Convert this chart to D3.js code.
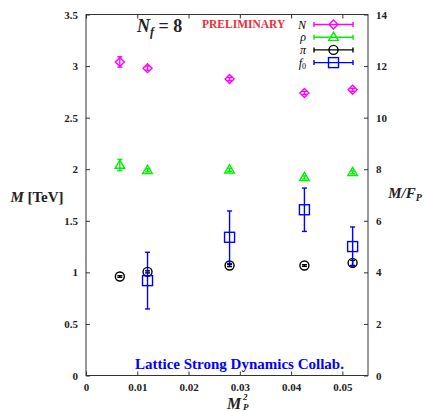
<!DOCTYPE html>
<html lang="en">
<head>
<meta charset="utf-8">
<script src="https://cdn.jsdelivr.net/npm/d3@7"></script>
<style>
  body { margin: 0; background: #fff; }
  svg text { font-family: "Liberation Serif", "DejaVu Serif", serif !important; font-weight: bold; }
</style>
</head>
<body>
<svg width="426" height="412"></svg>
<script>
// x positions (M_P^2)
var mp2 = [0.0066, 0.0120, 0.0280, 0.0426, 0.0520];

// masses in TeV with errors
var nucleon = [3.04, 2.98, 2.875, 2.74, 2.77];
var nucleonErr = [0.05, 0.02, 0.015, 0.015, 0.015];
var rho = [2.04, 1.99, 1.995, 1.92, 1.97];
var rhoErr = [0.055, 0.015, 0.015, 0.015, 0.015];
var pion = [0.96, 1.005, 1.066, 1.066, 1.092];
var pionErr = [0.008, 0.01, 0.01, 0.008, 0.025];
// f0 only at the four heavier masses
var f0x = [0.0120, 0.0280, 0.0426, 0.0520];
var f0 = [0.92, 1.34, 1.607, 1.25];
var f0Err = [0.275, 0.255, 0.21, 0.19];

var xTicks = [0, 0.01, 0.02, 0.03, 0.04, 0.05];
var yTicks = [0, 0.5, 1, 1.5, 2, 2.5, 3, 3.5];
var y2Ticks = [0, 2, 4, 6, 8, 10, 12, 14];

var margin = {top: 14.5, right: 58, bottom: 36.5, left: 86};
var width = 426 - margin.left - margin.right;
var height = 412 - margin.top - margin.bottom;

var svg = d3.select("svg").append("g")
  .attr("transform", "translate(" + margin.left + "," + margin.top + ")");

var x = d3.scaleLinear().domain([0, 0.055]).range([0, width]);
var y = d3.scaleLinear().domain([0, 3.5]).range([height, 0]);
var y2 = d3.scaleLinear().domain([0, 14]).range([height, 0]);

var axisColor = "#333";
var serif = "'Liberation Serif', 'DejaVu Serif', serif";

// axes with inward ticks
function styleAxis(g) {
  g.attr("font-family", null);
  g.select(".domain").remove();
  g.selectAll("line").attr("stroke", axisColor);
  g.selectAll("text").attr("fill", "#222")
    .style("font-family", serif).style("font-size", "11px");
}

svg.append("g").attr("transform", "translate(0," + height + ")")
  .call(d3.axisBottom(x).tickValues(xTicks).tickFormat(d3.format("")).tickSizeInner(-4).tickPadding(8))
  .call(styleAxis);
svg.append("g")
  .call(d3.axisTop(x).tickValues(xTicks).tickFormat("").tickSizeInner(-4))
  .call(styleAxis);
svg.append("g")
  .call(d3.axisLeft(y).tickValues(yTicks).tickFormat(d3.format("")).tickSizeInner(-4).tickPadding(8))
  .call(styleAxis);
svg.append("g").attr("transform", "translate(" + width + ",0)")
  .call(d3.axisRight(y2).tickValues(y2Ticks).tickSizeInner(-4).tickPadding(8))
  .call(styleAxis);

svg.append("rect")
  .attr("width", width).attr("height", height)
  .attr("fill", "none").attr("stroke", axisColor).attr("stroke-width", 1);

// series
var series = [
  {label: "N", xs: mp2, ys: nucleon, es: nucleonErr, color: "#ff00ff", shape: "diamond"},
  {label: "ρ", xs: mp2, ys: rho, es: rhoErr, color: "#00ee00", shape: "triangle"},
  {label: "π", xs: mp2, ys: pion, es: pionErr, color: "#000000", shape: "circle"},
  {label: "f0", xs: f0x, ys: f0, es: f0Err, color: "#0000ff", shape: "square"}
];

function marker(g, shape, color) {
  if (shape === "diamond") {
    g.append("path").attr("d", "M0,-4.5L4.5,0L0,4.5L-4.5,0Z");
  } else if (shape === "triangle") {
    g.append("path").attr("d", "M0,-5L4.8,3.2L-4.8,3.2Z");
  } else if (shape === "circle") {
    g.append("circle").attr("r", 4.5);
  } else {
    g.append("rect").attr("x", -5).attr("y", -5).attr("width", 10).attr("height", 10);
  }
  g.selectAll("path,circle,rect").attr("fill", "none").attr("stroke", color).attr("stroke-width", 1.4);
}

series.forEach(function(s) {
  var pts = s.xs.map(function(d, i) { return {x: d, y: s.ys[i], e: s.es[i]}; });
  var g = svg.append("g");
  var p = g.selectAll("g.pt").data(pts).enter().append("g").attr("class", "pt");
  p.append("line")
    .attr("x1", function(d) { return x(d.x); }).attr("x2", function(d) { return x(d.x); })
    .attr("y1", function(d) { return y(d.y - d.e); }).attr("y2", function(d) { return y(d.y + d.e); })
    .attr("stroke", s.color).attr("stroke-width", 1.4);
  [-1, 1].forEach(function(sg) {
    p.append("line")
      .attr("x1", function(d) { return x(d.x) - 2.5; }).attr("x2", function(d) { return x(d.x) + 2.5; })
      .attr("y1", function(d) { return y(d.y + sg * d.e); }).attr("y2", function(d) { return y(d.y + sg * d.e); })
      .attr("stroke", s.color).attr("stroke-width", 1.4);
  });
  p.each(function(d) {
    var m = d3.select(this).append("g").attr("transform", "translate(" + x(d.x) + "," + y(d.y) + ")");
    marker(m, s.shape, s.color);
  });
});

// legend
var legend = svg.append("g");
series.forEach(function(s, i) {
  var ly = 10 + i * 12.7;
  var lg = legend.append("g").attr("transform", "translate(0," + ly + ")");
  var t = lg.append("text").attr("x", 220).attr("y", 4)
    .attr("text-anchor", "end").style("font-size", "12px").style("font-style", "italic")
    .style("font-weight", "normal");
  if (s.label === "f0") {
    t.text("f");
    t.append("tspan").attr("dy", 2).style("font-size", "8px").style("font-style", "normal").text("0");
  } else {
    t.text(s.label);
  }
  lg.append("line").attr("x1", 228).attr("x2", 267).attr("y1", 0).attr("y2", 0)
    .attr("stroke", s.color).attr("stroke-width", 1.4);
  [228, 267].forEach(function(cx) {
    lg.append("line").attr("x1", cx).attr("x2", cx).attr("y1", -2.5).attr("y2", 2.5)
      .attr("stroke", s.color).attr("stroke-width", 1.4);
  });
  var m = lg.append("g").attr("transform", "translate(247.5,0)");
  marker(m, s.shape, s.color);
});

// annotations
var title = svg.append("text").attr("x", 51).attr("y", 17).style("font-size", "18px").attr("fill", "#222");
title.append("tspan").style("font-style", "italic").text("N");
title.append("tspan").attr("dy", 4).style("font-size", "12px").style("font-style", "italic").text("f");
title.append("tspan").attr("dy", -4).text(" = 8");

svg.append("text").attr("x", 116).attr("y", 13.5).attr("fill", "#e8303a")
  .style("font-size", "11.5px").text("PRELIMINARY");

svg.append("text").attr("x", 49).attr("y", 354).attr("fill", "#0000ff")
  .style("font-size", "15px").text("Lattice Strong Dynamics Collab.");

// axis titles
var yl = svg.append("text").attr("x", 37 - margin.left).attr("y", 197 - margin.top + 5)
  .attr("text-anchor", "middle").style("font-size", "15px").attr("fill", "#222");
yl.append("tspan").style("font-style", "italic").text("M");
yl.append("tspan").text(" [TeV]");

var y2l = svg.append("text").attr("x", 405 - margin.left).attr("y", 193 - margin.top + 5)
  .attr("text-anchor", "middle").style("font-size", "15px").style("font-style", "italic").attr("fill", "#222");
y2l.append("tspan").text("M/F");
y2l.append("tspan").attr("dy", 3).style("font-size", "10px").text("P");

svg.append("text").attr("x", 227 - margin.left).attr("y", 409 - margin.top)
  .style("font-size", "16px").style("font-style", "italic").attr("fill", "#222").text("M");
svg.append("text").attr("x", 243 - margin.left).attr("y", 400 - margin.top)
  .style("font-size", "9px").style("font-style", "italic").attr("fill", "#222").text("2");
svg.append("text").attr("x", 243 - margin.left).attr("y", 410 - margin.top)
  .style("font-size", "9px").style("font-style", "italic").attr("fill", "#222").text("P");
</script>
</body>
</html>
